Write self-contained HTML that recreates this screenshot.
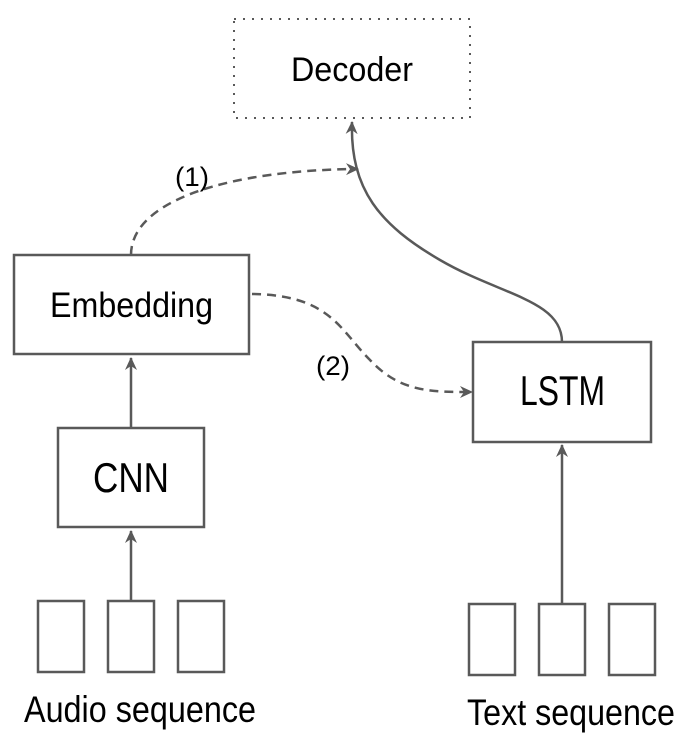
<!DOCTYPE html>
<html><head><style>
html,body{margin:0;padding:0;background:#fff;}
svg{display:block;}
text{font-family:"Liberation Sans",Arial,sans-serif;fill:#000;}
</style></head><body>
<svg width="678" height="750" viewBox="0 0 678 750" xmlns="http://www.w3.org/2000/svg">
<defs>
<marker id="a" markerWidth="14" markerHeight="14" refX="12" refY="7" orient="auto" markerUnits="userSpaceOnUse">
<path d="M0,1 L13,7 L0,13 L4,7 Z" fill="#595959"/>
</marker>
</defs>
<g fill="none" stroke="#595959" stroke-width="2.5">
<rect x="234" y="19" width="236" height="99" stroke-dasharray="2,7" stroke-width="2"/>
<rect x="14" y="255" width="235" height="99"/>
<rect x="58" y="428" width="146" height="99"/>
<rect x="473" y="342" width="178" height="100"/>
<rect x="38" y="601" width="46" height="71"/>
<rect x="108" y="601" width="46" height="71"/>
<rect x="178" y="601" width="46" height="71"/>
<rect x="469" y="604" width="46" height="71"/>
<rect x="539" y="604" width="46" height="71"/>
<rect x="609" y="604" width="46" height="71"/>
<line x1="131" y1="600" x2="131" y2="531" marker-end="url(#a)"/>
<line x1="131" y1="428" x2="131" y2="358" marker-end="url(#a)"/>
<line x1="562" y1="604" x2="562" y2="445" marker-end="url(#a)"/>
<path d="M562,342 C562,300 500,295 440,260 C380,225 350,190 352,122" marker-end="url(#a)"/>
<path d="M131,255 C131,200 230,170 358,169" stroke-dasharray="9,6" marker-end="url(#a)"/>
<path d="M252,294 C330,295 340,330 370,360 C400,392 430,392 472,392" stroke-dasharray="9,6" marker-end="url(#a)"/>
</g>
<text x="291" y="81" font-size="34" textLength="122" lengthAdjust="spacingAndGlyphs">Decoder</text>
<text x="50" y="317" font-size="35" textLength="163" lengthAdjust="spacingAndGlyphs">Embedding</text>
<text x="93" y="492" font-size="42" textLength="76" lengthAdjust="spacingAndGlyphs">CNN</text>
<text x="520" y="405" font-size="42" textLength="85" lengthAdjust="spacingAndGlyphs">LSTM</text>
<text x="175" y="186" font-size="27" textLength="34" lengthAdjust="spacingAndGlyphs">(1)</text>
<text x="316" y="375" font-size="27" textLength="34" lengthAdjust="spacingAndGlyphs">(2)</text>
<text x="24" y="722" font-size="37" textLength="232" lengthAdjust="spacingAndGlyphs">Audio sequence</text>
<text x="467" y="725" font-size="37" textLength="208" lengthAdjust="spacingAndGlyphs">Text sequence</text>
</svg>
</body></html>
